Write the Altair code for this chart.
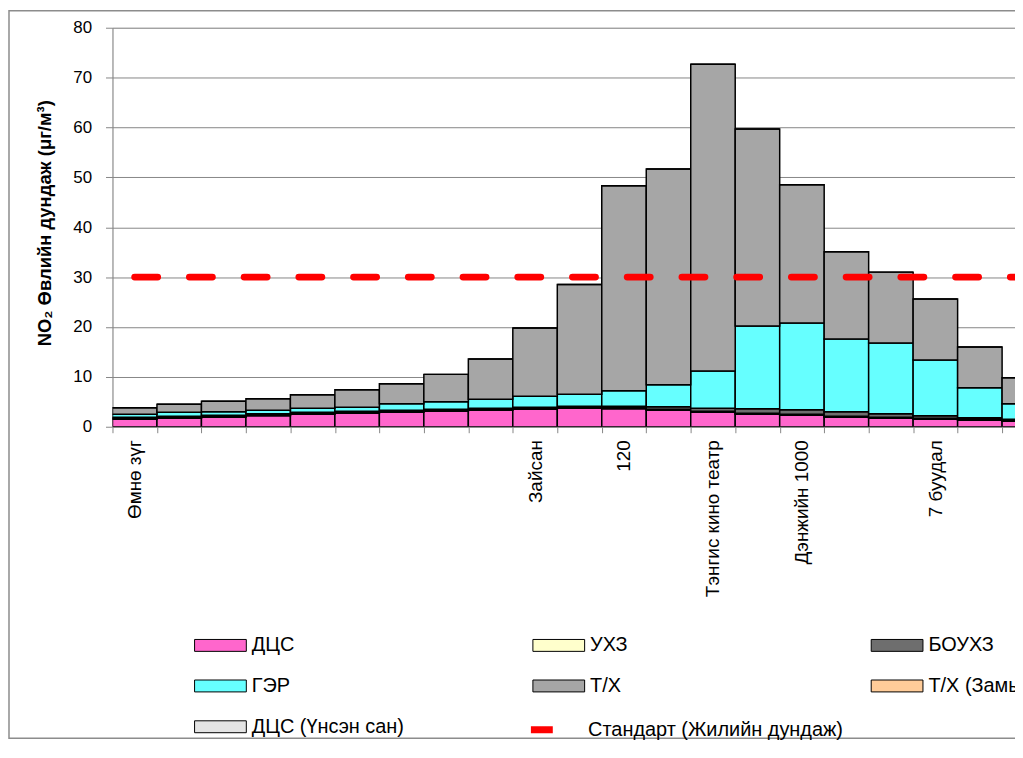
import json
import altair as alt
import pandas as pd

# ---- data ----
categories = ["Өмнө зүг", "", "", "", "", "", "", "", "", "Зайсан", "", "120", "",
              "Тэнгис кино театр", "", "Дэнжийн 1000", "", "", "7 буудал", "", ""]

dcs      = [1.5, 1.7, 1.9, 2.2, 2.5, 2.7, 2.9, 3.1, 3.3, 3.5, 3.7, 3.6, 3.3, 2.9, 2.5, 2.3, 1.9, 1.7, 1.5, 1.3, 1.1]
uhz      = [0.1, 0.1, 0.1, 0.1, 0.1, 0.1, 0.1, 0.1, 0.1, 0.1, 0.1, 0.1, 0.1, 0.1, 0.1, 0.1, 0.1, 0.1, 0.1, 0.1, 0.1]
dcs_ash  = [0.1, 0.1, 0.1, 0.1, 0.1, 0.1, 0.1, 0.1, 0.1, 0.1, 0.1, 0.1, 0.1, 0.1, 0.1, 0.1, 0.1, 0.1, 0.1, 0.1, 0.1]
bouhz    = [0.2, 0.2, 0.2, 0.2, 0.2, 0.2, 0.2, 0.2, 0.2, 0.2, 0.2, 0.3, 0.5, 0.6, 0.9, 0.9, 0.9, 0.7, 0.5, 0.3, 0.2]
ger      = [0.6, 0.8, 0.7, 0.7, 0.8, 0.8, 1.3, 1.5, 1.8, 2.2, 2.4, 3.1, 4.4, 7.5, 16.6, 17.4, 14.6, 14.2, 11.2, 6.0, 3.1]
th       = [1.3, 1.6, 2.1, 2.3, 2.7, 3.5, 4.0, 5.5, 8.1, 13.7, 22.0, 41.1, 43.3, 61.5, 39.5, 27.7, 17.5, 14.2, 12.2, 8.2, 5.2]
th_road  = [0.0, 0.0, 0.0, 0.0, 0.0, 0.0, 0.0, 0.0, 0.0, 0.0, 0.0, 0.0, 0.0, 0.0, 0.0, 0.0, 0.0, 0.0, 0.0, 0.0, 0.0]
standard = [30, 30, 30, 30, 30, 30, 30, 30, 30, 30, 30, 30, 30, 30, 30, 30, 30, 30, 30, 30, 30]

stack_names = ["ДЦС", "УХЗ", "ДЦС (Үнсэн сан)", "БОУХЗ", "ГЭР", "Т/Х", "Т/Х (Замын тоос)"]
stack_values = [dcs, uhz, dcs_ash, bouhz, ger, th, th_road]

legend_order = ["ДЦС", "УХЗ", "БОУХЗ", "ГЭР", "Т/Х", "Т/Х (Замын тоос)", "ДЦС (Үнсэн сан)"]
legend_colors = ["#FF66CC", "#FFFFCC", "#6E6E6E", "#66FFFF", "#A6A6A6", "#FFCC99", "#E4E4E4"]
std_name = "Стандарт (Жилийн дундаж)"

rows = []
for k, (name, vals) in enumerate(zip(stack_names, stack_values)):
    for i, v in enumerate(vals):
        rows.append({"idx": i, "idx_end": i + 1, "series": name, "value": v, "order": k})
df = pd.DataFrame(rows)

std_df = pd.DataFrame({"xc": [i + 0.5 for i in range(len(standard))],
                       "std": standard,
                       "label": [std_name] * len(standard)})

N_VISIBLE = 20.29
label_expr = "[" + ",".join(json.dumps(c, ensure_ascii=False) for c in categories) + "][datum.value]"

FONT = "Liberation Sans"
GRAY = "#868686"

x_scale = alt.Scale(domain=[0, N_VISIBLE], nice=False, zero=False)
y_scale = alt.Scale(domain=[0, 80], nice=False)

x_axis = alt.Axis(values=list(range(len(categories))), labelExpr=label_expr,
                  labelOffset=22.35, labelAngle=-90, labelFontSize=19, labelFont=FONT,
                  labelColor="black", labelOverlap=False, labelFlush=False, labelPadding=7,
                  tickSize=6, tickColor=GRAY, domainColor=GRAY, grid=False, title=None)
y_axis = alt.Axis(values=[0, 10, 20, 30, 40, 50, 60, 70, 80], labelFontSize=17, labelFont=FONT,
                  labelColor="black", labelPadding=14, tickSize=7, tickColor=GRAY,
                  domainColor=GRAY, grid=True, gridColor=GRAY,
                  title="NO₂  Өвлийн дундаж (μг/м³)", titleFont=FONT, titleFontSize=18.5,
                  titleFontWeight="bold", titleColor="black", titleAngle=-90,
                  titleAlign="center", titleBaseline="middle", titleX=-68, titleY=196)

bars = alt.Chart(df).transform_stack(
    stack="value", groupby=["idx"], as_=["y0", "y1"],
    sort=[alt.SortField("order", order="ascending")]
).mark_bar(stroke="black", strokeWidth=1.5, clip=True).encode(
    x=alt.X("idx:Q", scale=x_scale, axis=x_axis),
    x2="idx_end:Q",
    y=alt.Y("y0:Q", scale=y_scale, axis=y_axis),
    y2="y1:Q",
    fill=alt.Fill("series:N", scale=alt.Scale(domain=legend_order, range=legend_colors),
                  legend=alt.Legend(title=None, orient="none", legendX=82, legendY=594,
                                    columns=3, direction="horizontal",
                                    symbolType="M-1,-0.23L1,-0.23L1,0.23L-1,0.23Z",
                                    symbolSize=2704, symbolStrokeColor="black",
                                    symbolStrokeWidth=1, symbolOpacity=1,
                                    labelFontSize=20, labelFont=FONT, labelColor="black",
                                    labelOffset=5, columnPadding=120, rowPadding=4,
                                    gridAlign="all", labelLimit=400, padding=0)),
)

line = alt.Chart(std_df).mark_line(strokeWidth=7, strokeDash=[23, 32], strokeCap="round",
                                   clip=True).encode(
    x=alt.X("xc:Q", scale=x_scale, axis=x_axis),
    y=alt.Y("std:Q", scale=y_scale, axis=y_axis),
    stroke=alt.Stroke("label:N", scale=alt.Scale(domain=[std_name], range=["#FF0000"]),
                      legend=alt.Legend(title=None, orient="none", legendX=417, legendY=691,
                                        symbolType="stroke", symbolSize=484,
                                        symbolStrokeWidth=7, symbolDash=[1, 0],
                                        symbolStrokeColor="#FF0000",
                                        labelFontSize=20, labelFont=FONT, labelColor="black",
                                        labelOffset=32, padding=0, labelLimit=400)),
)

frame = alt.Chart(pd.DataFrame({"a": [0]})).mark_rect(
    fillOpacity=0, stroke="#8C8C8C", strokeWidth=1.5
).encode(x=alt.value(-104), x2=alt.value(1100), y=alt.value(-17), y2=alt.value(714))

chart = alt.layer(bars, line, frame).properties(
    width=907, height=401,
    autosize=alt.AutoSizeParams(type="none"),
    padding={"left": 105, "top": 18, "right": 0, "bottom": 316},
    background="white",
).configure_view(stroke=None).configure(font=FONT)

chart.save("out.html", embed_options={"renderer": "svg", "actions": False})
